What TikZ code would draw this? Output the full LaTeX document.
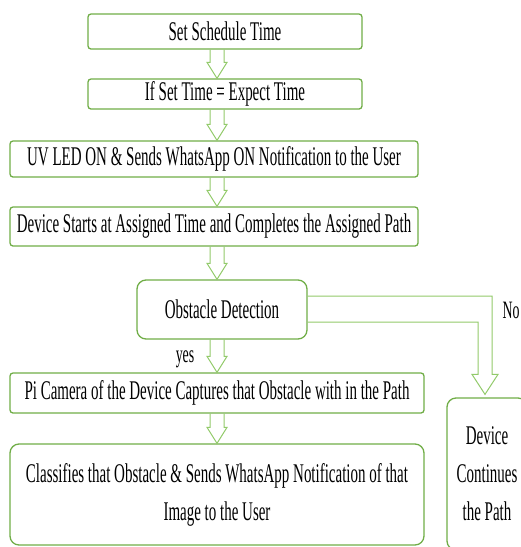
\documentclass[tikz,border=0pt]{standalone}
\usepackage{fontspec}
\setmainfont[FakeStretch=0.555]{Liberation Serif}
\usetikzlibrary{calc}
\definecolor{boxgreen}{RGB}{112,173,71}
\definecolor{arrgreen}{RGB}{146,202,106}

\begin{document}
\begin{tikzpicture}[x=1pt, y=-1pt,
    box/.style={draw=boxgreen, line width=1.3pt, rounded corners=3pt,
      align=center, inner sep=0pt, font=\fontsize{27}{38}\selectfont},
    roundbox/.style={box, rounded corners=9pt},
    hollow/.style={draw=arrgreen, line width=1pt, line join=miter},
    lbl/.style={font=\fontsize{25}{28}\selectfont}]

  \useasboundingbox (0,0) rectangle (521,547);

  \node[box, minimum width=274pt, minimum height=35pt] (b1) at (225,31.5) {Set Schedule Time};
  \node[box, minimum width=274pt, minimum height=30pt] (b2) at (225,94) {If Set Time = Expect Time};
  \node[box, minimum width=408pt, minimum height=36pt] (b3) at (214,159) {UV LED ON \& Sends WhatsApp ON Notification to the User};
  \node[box, minimum width=408pt, minimum height=39pt] (b4) at (214,226.5) {Device Starts at Assigned Time and Completes the Assigned Path};
  \node[roundbox, minimum width=170pt, minimum height=59pt] (b5) at (222,309.5) {Obstacle Detection};
  \node[box, minimum width=414pt, minimum height=40pt] (b6) at (217,393) {Pi Camera of the Device Captures that Obstacle with in the Path};
  \node[roundbox, minimum width=414pt, minimum height=101pt] (b7) at (217,494.5) {Classifies that Obstacle \& Sends WhatsApp Notification of that\\Image to the User};
  \node[roundbox, minimum width=80pt, minimum height=152pt] (b8) at (487,474) {Device\\Continues\\the Path};

  \node[lbl] (yes) at (185,359) {yes};
  \node[lbl] (no) at (511,310) {No};

  \coordinate (ax) at (217,0);

  % straight hollow arrows
  \foreach \a/\b in {b1/b2, b2/b3, b3/b4, b4/b5, b5/b6, b6/b7}
    \draw[hollow] let \p1 = (\a.south -| ax), \p2 = (\b.north -| ax) in
      (\x1-7pt,\y1) -- (\x1-7pt,\y2+16pt) -- (\x1-10pt,\y2+16pt) -- (\x2,\y2)
      -- (\x1+10pt,\y2+16pt) -- (\x1+7pt,\y2+16pt) -- (\x1+7pt,\y1);

  % elbow arrow for No
  \draw[hollow] let \p1 = (b5.east), \p2 = ($(b8.north)+(-2,-3)$) in
    (\x1,\y1+13.5pt) -- (\x2+7pt,\y1+13.5pt) -- (\x2+7pt,\y2+20pt) -- (\x2+13pt,\y2+20pt)
    -- (\x2,\y2) -- (\x2-13pt,\y2+20pt) -- (\x2-7pt,\y2+20pt) -- (\x2-7pt,\y1-12.5pt)
    -- (\x1,\y1-12.5pt);
\end{tikzpicture}
\end{document}
